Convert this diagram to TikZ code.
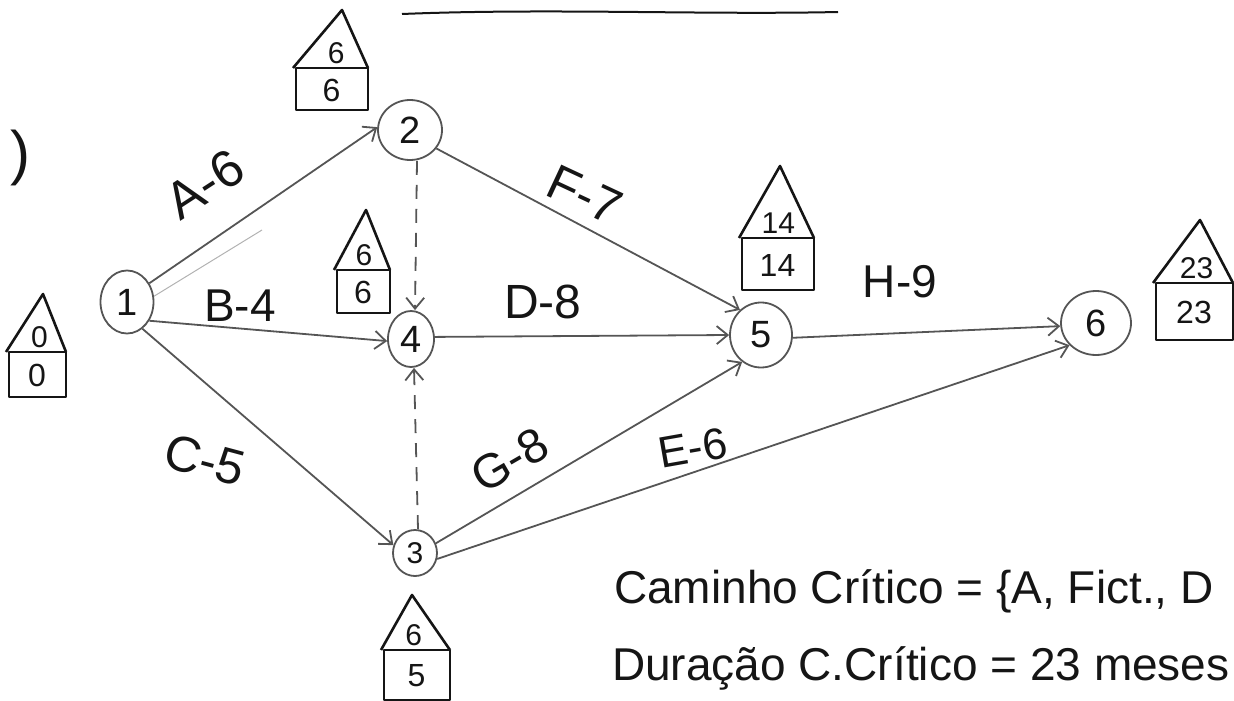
\documentclass[tikz,border=0pt]{standalone}
\usepackage{fontspec}
\setmainfont{Liberation Sans}
\usetikzlibrary{arrows.meta,shapes.geometric}
\definecolor{pencil}{HTML}{555555}
\definecolor{ink}{HTML}{151515}
\tikzset{
  ev/.style={ellipse, draw=pencil, line width=1.8pt, inner sep=0pt, text=ink, font=\fontsize{38}{42}\selectfont},
  arr/.style={draw=pencil, line width=1.8pt, -{Straight Barb[length=11pt,width=18pt,line width=1.8pt]}},
  fict/.style={arr, dash pattern=on 14pt off 10pt},
  house/.style={draw=ink, line width=2.6pt, line join=round},
  ht/.style={text=ink, font=\fontsize{32}{34}\selectfont, inner sep=0pt},
  hr/.style={text=ink, font=\fontsize{30}{32}\selectfont, inner sep=0pt},
  lbl/.style={text=ink, inner sep=0pt},
  shade/.style={draw=pencil!45, line width=1pt}
}
% #1 roof left x, #2 roof right x, #3 roof base y, #4 peak x, #5 peak y,
% #6 box bottom y, #7 name, #8 upper value, #9 lower value
\newcommand{\casa}[9]{%
  \draw[house] (#1,#3) -- (#4,#5) -- (#2,#3);
  \draw[house] (#1+3,#3) rectangle (#2,#6);
  \node[hr] (#7t) at ({(#1+#2)/4+#4/2},#3-15) {#8};
  \node[ht] (#7b) at ({(#1+#2)/2+1},{(#3+#6)/2+1}) {#9};
}
\begin{document}
\begin{tikzpicture}[x=1pt,y=-1pt]
\useasboundingbox (0,0) rectangle (1234,701);

% stray header line and item mark
\coordinate (tl1) at (402,14);
\coordinate (tl2) at (838,12);
\draw[ink, line width=2pt] (tl1) .. controls (550,8) and (700,15) .. (tl2);
\node[lbl, font=\fontsize{60}{60}\selectfont] (paren) at (20,158) {)};

% events
\node[ev, minimum width=53pt, minimum height=63pt] (n1) at (127,302) {1};
\node[ev, minimum width=64pt, minimum height=60pt] (n2) at (410,130) {2};
\node[ev, minimum width=46pt, minimum height=56pt] (n4) at (411,339) {4};
\node[ev, minimum width=44pt, minimum height=46pt, font=\fontsize{30}{34}\selectfont] (n3) at (415,553) {3};
\node[ev, minimum width=62pt, minimum height=65pt] (n5) at (761,335) {5};
\node[ev, minimum width=70pt, minimum height=64pt] (n6) at (1096,323) {6};

% activities
\coordinate (sh) at (262,230);
\draw[shade] (n1.12) -- (sh);
\draw[arr] (n1.40) -- (n2.175);
\draw[arr] (n1.-40) -- (n4.185);
\draw[arr] (n1.-60) -- (n3.160);
\draw[fict] ([xshift=7pt]n2.south) -- ([xshift=4pt]n4.north);
\draw[fict] ([xshift=3pt]n3.north) -- ([xshift=3pt]n4.south);
\draw[arr] (n2.-35) -- (n5.130);
\draw[arr] (n4.5) -- (n5.180);
\draw[arr] (n3.25) -- (n5.-125);
\draw[arr] (n3.-15) -- (n6.-140);
\draw[arr] (n5.-5) -- (n6.185);

% activity labels
\node[lbl, font=\fontsize{52}{56}\selectfont, rotate=33] (lA) at (205,184) {A-6};
\node[lbl, font=\fontsize{46}{50}\selectfont] (lB) at (240,306) {B-4};
\node[lbl, font=\fontsize{50}{54}\selectfont, rotate=-15] (lC) at (205,460) {C-5};
\node[lbl, font=\fontsize{48}{52}\selectfont] (lD) at (543,302) {D-8};
\node[lbl, font=\fontsize{50}{54}\selectfont, rotate=-25] (lF) at (585,195) {F-7};
\node[lbl, font=\fontsize{48}{52}\selectfont, rotate=30] (lG) at (510,460) {G-8};
\node[lbl, font=\fontsize{44}{48}\selectfont, rotate=10] (lE) at (693,448) {E-6};
\node[lbl, font=\fontsize{46}{50}\selectfont] (lH) at (900,282) {H-9};

% early / late times
\casa{6}{66}{352}{43}{294}{397}{h1}{0}{0}
\casa{293}{368}{68}{342}{10}{110}{h2}{6}{6}
\casa{334}{390}{270}{366}{210}{313}{h4}{6}{6}
\casa{381}{450}{650}{412}{595}{700}{h3}{6}{5}
\casa{739}{814}{238}{780}{166}{290}{h5}{14}{14}
\casa{1153}{1233}{283}{1200}{220}{340}{h6}{23}{23}

% conclusions
\node[lbl, anchor=base west, font=\fontsize{46}{50}\selectfont] (cc) at (614,603) {Caminho Crítico = \{A, Fict., D};
\node[lbl, anchor=base west, font=\fontsize{46}{50}\selectfont] (dc) at (612,680) {Duração C.Crítico = 23 meses};
\end{tikzpicture}
\end{document}
